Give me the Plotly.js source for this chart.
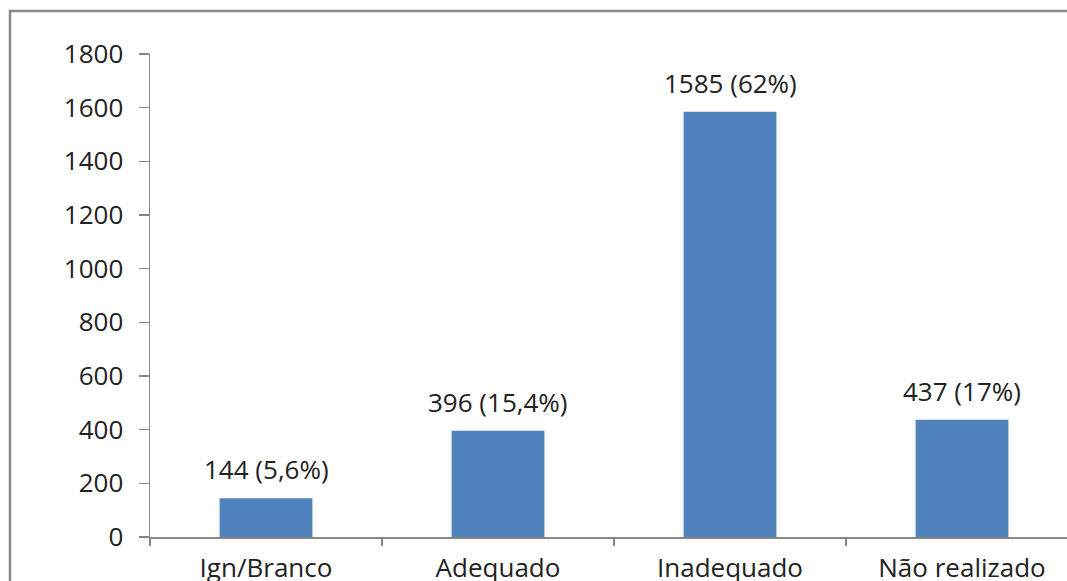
<!DOCTYPE html>
<html>
<head>
<meta charset="utf-8">
<script src="https://cdn.plot.ly/plotly-3.0.1.min.js"></script>
<style>html,body{margin:0;padding:0;background:#fff;}#chart{width:1067px;height:581px;}</style>
</head>
<body>
<div id="chart"></div>
<script>
var categories = ["Ign/Branco", "Adequado", "Inadequado", "Não realizado"];
var values = [144, 396, 1585, 437];
var labels = ["144 (5,6%)", "396 (15,4%)", "1585 (62%)", "437 (17%)"];
var yTicks = [0, 200, 400, 600, 800, 1000, 1200, 1400, 1600, 1800];

var fontFam = "Open Sans, Liberation Sans, Arial, sans-serif";
var txtColor = "#222";
var axisColor = "#868686";

var trace = {
  type: "bar",
  x: categories,
  y: values,
  width: 0.4,
  marker: {color: "#4F81BD", line: {width: 0}},
  hoverinfo: "none"
};

var annotations = categories.map(function (c, i) {
  return {
    x: c, y: values[i], xref: "x", yref: "y",
    text: labels[i], showarrow: false,
    yanchor: "bottom", yshift: 9,
    font: {family: fontFam, size: 26, color: txtColor}
  };
});

var layout = {
  width: 1067, height: 581,
  margin: {l: 150, r: 0, t: 54, b: 44, pad: 0},
  paper_bgcolor: "#fff", plot_bgcolor: "#fff",
  showlegend: false,
  xaxis: {
    type: "category",
    range: [-0.5, 3.4526],
    tickson: "boundaries",
    ticks: "outside", ticklen: 7, tickcolor: axisColor, tickwidth: 1.5,
    showline: true, linecolor: axisColor, linewidth: 1.5,
    showgrid: false, zeroline: false,
    ticklabelstandoff: 7,
    tickfont: {family: fontFam, size: 26, color: txtColor},
    fixedrange: true
  },
  yaxis: {
    range: [0, 1800],
    tickvals: yTicks,
    ticktext: yTicks.map(String),
    ticks: "outside", ticklen: 10, tickcolor: axisColor, tickwidth: 1.5,
    showline: true, linecolor: axisColor, linewidth: 1.5,
    showgrid: false, zeroline: false,
    ticklabelstandoff: 10,
    tickfont: {family: fontFam, size: 26, color: txtColor},
    fixedrange: true
  },
  bargap: 0.6,
  annotations: annotations,
  shapes: [{
    type: "rect", xref: "paper", yref: "paper",
    x0: -0.1527, x1: 1.2, y0: -0.3, y1: 1.089,
    line: {color: "#8a8a8a", width: 2.5},
    fillcolor: "rgba(0,0,0,0)",
    layer: "below"
  }]
};

Plotly.newPlot("chart", [trace], layout, {displayModeBar: false, staticPlot: true});
</script>
</body>
</html>
